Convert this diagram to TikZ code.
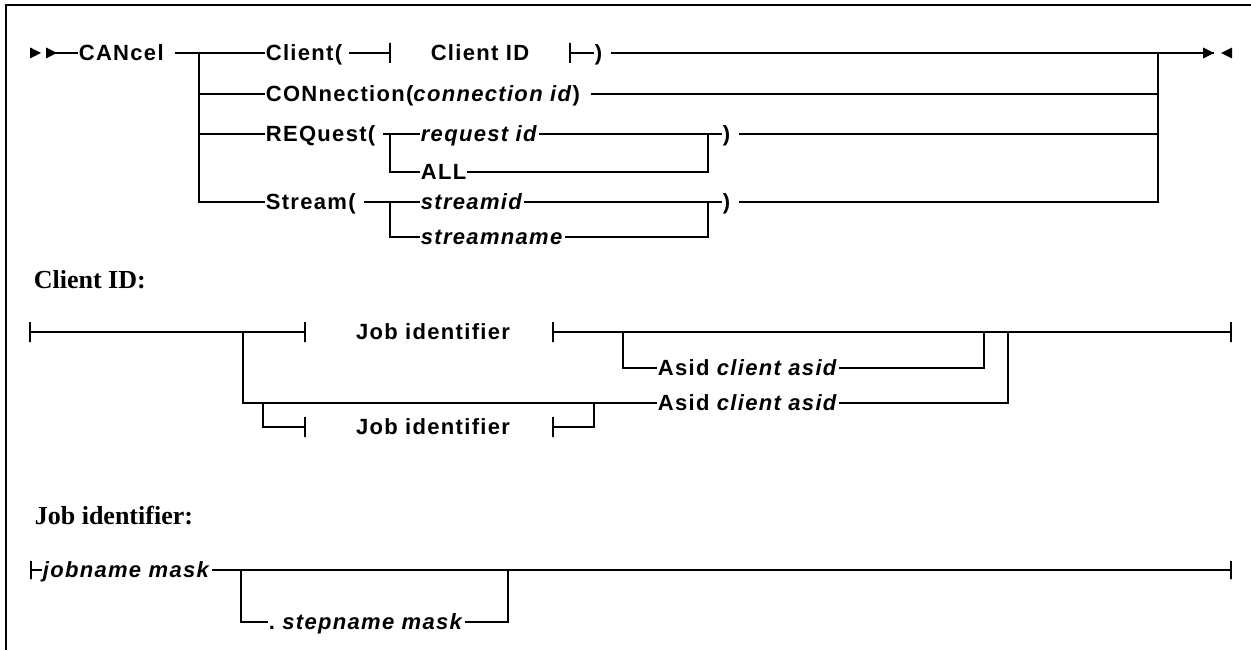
\documentclass[tikz,border=0pt]{standalone}
\usepackage{fontspec}
\setmainfont{Liberation Serif}
\setsansfont{Liberation Sans}
\newfontfamily\railfont{Liberation Sans}[LetterSpace=6]
\usetikzlibrary{positioning}

\begin{document}
\begin{tikzpicture}[x=1pt,y=-1pt,line width=1.7pt,
  kw/.style={font=\railfont\bfseries\fontsize{22}{26}\selectfont,inner sep=0pt,
    text height=15pt,text depth=0pt,anchor=west},
  tick/.style={draw,minimum width=0pt,minimum height=20pt,inner sep=0pt},
  head/.style={font=\bfseries\fontsize{26}{30}\selectfont,anchor=base west,inner sep=0pt},
  tip/.style={fill=black}]
\useasboundingbox (0,0) rectangle (1251,650);
\draw[line width=2pt] (1251,5) -- (6,5) -- (6,650);

% CANcel
\coordinate (in) at (47,53);
\node[kw] (cancel) at (78,53) {CANcel\kern10pt};
\coordinate (sp) at (199,53);
\node[kw] (client) at (265,53) {Client(\kern6pt};
\node[tick] (b1) at (390,53) {};
\node[kw,anchor=center] (cid) at (480,53) {Client ID};
\node[tick] (b2) at (570,53) {};
\node[kw] (cpar) at (594,53) {)\kern8pt};
\coordinate (rj) at (1158,53);
\coordinate (out) at (1214,53);
\draw (in) -- (cancel.west);
\draw (cancel.east) -- (client.west);
\draw (client.east) -- (b1.center);
\draw (b2.center) -- (cpar.west);
\draw (cpar.east) -- (out);
\fill[tip] (30,47.5) -- (41,53) -- (30,58.5) -- cycle;
\fill[tip] (46,47.5) -- (57,53) -- (46,58.5) -- cycle;
\fill[tip] (1203,47.5) -- (1214,53) -- (1203,58.5) -- cycle;
\fill[tip] (1232,47.5) -- (1221,53) -- (1232,58.5) -- cycle;

\node[kw] (conn) at (265,94) {CONnection(\textit{connection id})\kern10pt};
\draw (sp) |- (conn.west);
\draw (conn.east) -- (conn.east -| rj);

\node[kw] (req) at (265,134) {REQuest(\kern7pt};
\coordinate (rs) at (390,134);
\node[kw] (reqid) at (420,134) {\textit{request id}};
\node[kw] (all) at (420,172) {ALL};
\coordinate (rm) at (708,134);
\node[kw] (rpar) at (722,134) {)\kern8pt};
\draw (sp) |- (req.west);
\draw (req.east) -- (reqid.west);
\draw (rs) |- (all.west);
\draw (reqid.east) -- (rpar.west);
\draw (all.east) -| (rm);
\draw (rpar.east) -- (rpar.east -| rj);

\node[kw] (stream) at (265,202) {Stream(\kern7pt};
\coordinate (ss) at (390,202);
\node[kw] (sid) at (420,202) {\textit{streamid}};
\node[kw] (sname) at (420,237) {\textit{streamname}};
\coordinate (sm) at (708,202);
\node[kw] (spar) at (722,202) {)\kern8pt};
\draw (sp) |- (stream.west);
\draw (stream.east) -- (sid.west);
\draw (ss) |- (sname.west);
\draw (sid.east) -- (spar.west);
\draw (sname.east) -| (sm);
\draw (spar.east) -| (rj);

% Client ID
\node[head] (hcid) at (33,288) {Client ID:};
\node[tick] (c0) at (30,332) {};
\coordinate (cs) at (243,332);
\node[tick] (c1) at (305,332) {};
\node[kw,anchor=center] (job1) at (433,332) {Job identifier};
\node[tick] (c2) at (553,332) {};
\coordinate (ca) at (623,332);
\node[kw] (asid1) at (657,368) {Asid \textit{client asid}};
\coordinate (cb) at (984,332);
\coordinate (cc) at (1008,332);
\node[tick] (c9) at (1231,332) {};
\draw (c0.center) -- (c1.center);
\draw (c2.center) -- (c9.center);
\draw (ca) |- (asid1.west);
\draw (asid1.east) -| (cb);
\coordinate (cd) at (263,403);
\node[kw] (asid2) at (657,403) {Asid \textit{client asid}};
\draw (cs) |- (asid2.west);
\draw (asid2.east) -| (cc);
\node[tick] (c3) at (305,427) {};
\node[kw,anchor=center] (job2) at (433,427) {Job identifier};
\node[tick] (c4) at (553,427) {};
\coordinate (ce) at (594,403);
\draw (cd) |- (c3.center);
\draw (c4.center) -| (ce);

% Job identifier
\node[head] (hjob) at (34,524) {Job identifier:};
\node[tick,minimum height=18pt] (j0) at (31,570) {};
\node[kw] (jname) at (42,570) {\textit{jobname mask}};
\coordinate (js) at (241,570);
\node[kw] (stepn) at (268,622) {.~\textit{stepname mask}};
\coordinate (jm) at (508,570);
\node[tick,minimum height=18pt] (j9) at (1231,570) {};
\draw (j0.center) -- (jname.west);
\draw (jname.east) -- (j9.center);
\draw (js) |- (stepn.west);
\draw (stepn.east) -| (jm);
\end{tikzpicture}
\end{document}
